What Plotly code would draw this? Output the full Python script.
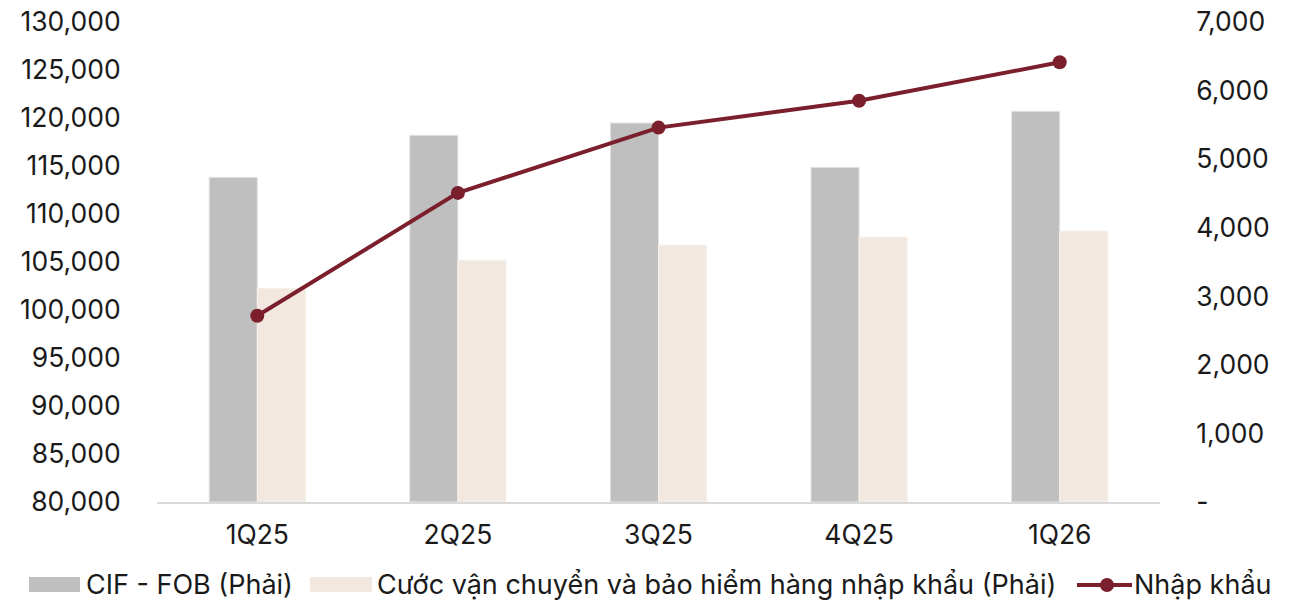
import plotly.graph_objects as go

# ─── Data ───
quarters = ["1Q25", "2Q25", "3Q25", "4Q25", "1Q26"]
cif_fob = [4735, 5348, 5527, 4881, 5698]            # right axis
freight_insurance = [3116, 3525, 3748, 3865, 3952]  # right axis
imports = [99400, 112200, 119000, 121800, 125800]   # left axis

left_ticks = list(range(80000, 130001, 5000))
right_ticks = list(range(0, 7001, 1000))
right_ticktext = ["-"] + [f"{v:,}" for v in right_ticks[1:]]

GRAY = "#BFBFBF"
BEIGE = "#F2E8DF"
RED = "#7B1F2D"
FONT = "Inter, Roboto, sans-serif"
FS = 26.5

W, H = 1302, 600
L, R, T, B = 157, 142, 22, 98
pw, ph = W - L - R, H - T - B


def px(x):
    return (x - L) / pw


def py(y):
    return (H - B - y) / ph


fig = go.Figure()
fig.add_trace(go.Bar(
    x=quarters, y=cif_fob, name="CIF - FOB (Phải)",
    marker=dict(color=GRAY, line=dict(color="#E4E4E4", width=1)),
    yaxis="y",
))
fig.add_trace(go.Bar(
    x=quarters, y=freight_insurance, name="Cước vận chuyển và bảo hiểm hàng nhập khẩu (Phải)",
    marker=dict(color=BEIGE, line=dict(color="#F7F1EB", width=1)),
    yaxis="y",
))
fig.add_trace(go.Scatter(
    x=quarters, y=imports, name="Nhập khẩu",
    mode="lines+markers",
    line=dict(color=RED, width=4),
    marker=dict(color=RED, size=14),
    yaxis="y2",
))

fig.update_layout(
    width=W, height=H,
    margin=dict(l=L, r=R, t=T, b=B),
    plot_bgcolor="white", paper_bgcolor="white",
    font=dict(family=FONT, size=FS, color="#1a1a1a"),
    barmode="group", bargap=0.52, bargroupgap=0,
    showlegend=False,
    xaxis=dict(
        showgrid=False, showline=True, linecolor="#D9D9D9", linewidth=2,
        ticks="outside", ticklen=8, tickcolor="rgba(0,0,0,0)", automargin=False,
    ),
    yaxis=dict(
        side="right", range=[0, 7000], tickvals=right_ticks, ticktext=right_ticktext,
        showgrid=False, zeroline=False, automargin=False,
        ticks="outside", ticklen=30, tickcolor="rgba(0,0,0,0)",
    ),
    yaxis2=dict(
        overlaying="y", side="left", range=[80000, 130000], tickvals=left_ticks,
        tickformat=",", showgrid=False, zeroline=False, automargin=False,
        ticks="outside", ticklen=30, tickcolor="rgba(0,0,0,0)",
    ),
)

# ─── Custom legend ───
ly = 584
fig.add_shape(type="rect", xref="paper", yref="paper",
              x0=px(29), x1=px(80), y0=py(592), y1=py(577),
              fillcolor=GRAY, line=dict(width=0))
fig.add_shape(type="rect", xref="paper", yref="paper",
              x0=px(310), x1=px(372), y0=py(592), y1=py(577),
              fillcolor=BEIGE, line=dict(width=0))
fig.add_shape(type="line", xref="paper", yref="paper",
              x0=px(1077), x1=px(1132), y0=py(ly + 1), y1=py(ly + 1),
              line=dict(color=RED, width=4))
fig.add_shape(type="circle", xref="paper", yref="paper",
              x0=px(1100), x1=px(1114), y0=py(ly + 8), y1=py(ly - 6),
              fillcolor=RED, line=dict(width=0))

for x0, text in [(86, "CIF - FOB (Phải)"),
                 (377, "Cước vận chuyển và bảo hiểm hàng nhập khẩu (Phải)"),
                 (1134, "Nhập khẩu")]:
    fig.add_annotation(x=px(x0), y=py(ly), xref="paper", yref="paper",
                       text=text, showarrow=False, xanchor="left", yanchor="middle",
                       xshift=-2, font=dict(size=27, family=FONT, color="#1a1a1a"))

# page body has a default 8px margin; drop it so the figure fills the window
fig.write_html("out.html", config={"displayModeBar": False},
               post_script="document.body.style.margin='0';")
